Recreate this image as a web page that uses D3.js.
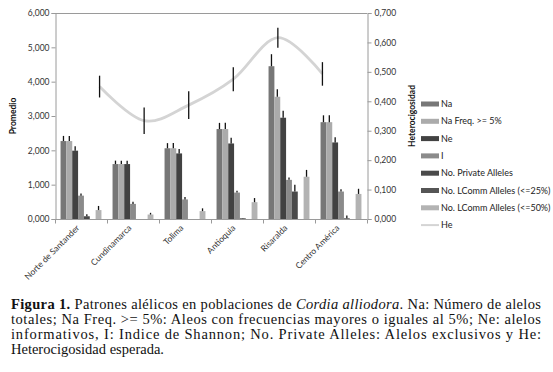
<!DOCTYPE html>
<html><head><meta charset="utf-8">
<script src="https://cdn.jsdelivr.net/npm/d3@7"></script>
<style>
html,body{margin:0;padding:0;background:#fff;}
svg{display:block;}
</style></head>
<body>
<svg id="chart" width="553" height="372"></svg>
<script>
const categories = ["Norte de Santander","Cundinamarca","Tolima","Antioquia","Risaralda","Centro América"];
const seriesNames = ["Na","Na Freq. >= 5%","Ne","I","No. Private Alleles","No. LComm Alleles (<=25%)","No. LComm Alleles (<=50%)"];
const seriesColors = ["#777777","#ababab","#424242","#8b8b8b","#4a4a4a","#555555","#b3b3b3"];
const naValues      = [2.27, 1.60, 2.06, 2.62, 4.45, 2.82];
const naFreqValues  = [2.27, 1.60, 2.06, 2.62, 3.56, 2.82];
const neValues      = [1.99, 1.60, 1.91, 2.20, 2.95, 2.23];
const iValues       = [0.68, 0.44, 0.57, 0.77, 1.14, 0.80];
const privValues    = [0.08, 0.00, 0.00, 0.02, 0.80, 0.02];
const lcomm25Values = [0.00, 0.00, 0.00, 0.00, 0.00, 0.00];
const lcomm50Values = [0.26, 0.13, 0.23, 0.49, 1.23, 0.73];
const naErr      = [0.15, 0.10, 0.15, 0.18, 0.35, 0.20];
const naFreqErr  = [0.15, 0.10, 0.15, 0.18, 0.22, 0.20];
const neErr      = [0.13, 0.10, 0.13, 0.17, 0.20, 0.15];
const iErr       = [0.06, 0.06, 0.07, 0.05, 0.07, 0.07];
const privErr    = [0.06, 0.00, 0.00, 0.01, 0.20, 0.08];
const lcomm25Err = [0, 0, 0, 0, 0, 0];
const lcomm50Err = [0.12, 0.05, 0.08, 0.12, 0.20, 0.15];
const heValues = [0.450, 0.334, 0.387, 0.475, 0.616, 0.493];
const heErr    = [0.037, 0.045, 0.047, 0.041, 0.034, 0.040];
const leftTicks  = [0,1,2,3,4,5,6];
const rightTicks = [0,0.1,0.2,0.3,0.4,0.5,0.6,0.7];
const leftTitle = "Promedio";
const rightTitle = "Heterocigosidad";
const heName = "He";

const allValues = [naValues,naFreqValues,neValues,iValues,privValues,lcomm25Values,lcomm50Values];
const allErr = [naErr,naFreqErr,neErr,iErr,privErr,lcomm25Err,lcomm50Err];

const svg = d3.select("#chart");
const L = 55, R = 367, T = 13, B = 219;
const axisColor = "#9a9a9a";
const tickFont = "Lato, 'Open Sans', sans-serif";

const x0 = d3.scaleBand().domain(categories).range([L, R]).paddingInner(0).paddingOuter(0);
const x1 = d3.scaleBand().domain(seriesNames).range([0, x0.bandwidth()]).paddingInner(0).paddingOuter(0.95);
const xLine = d3.scalePoint().domain(categories).range([L, R]).padding(1);
const yL = d3.scaleLinear().domain([0, 6]).range([B, T]);
const yR = d3.scaleLinear().domain([0, 0.7]).range([B, T]);
const fmt = v => d3.format(".3f")(v).replace(".", ",");

// frame lines
svg.append("line").attr("x1", L).attr("x2", R).attr("y1", T + 0.5).attr("y2", T + 0.5).attr("stroke", axisColor);

// Left axis
const gl = svg.append("g").attr("transform", `translate(${L + 0.5},0)`)
  .call(d3.axisLeft(yL).tickValues(leftTicks).tickFormat(fmt).tickSize(4).tickPadding(2));
// Right axis
const gr = svg.append("g").attr("transform", `translate(${R + 0.5},0)`)
  .call(d3.axisRight(yR).tickValues(rightTicks).tickFormat(fmt).tickSize(4).tickPadding(3));
[gl, gr].forEach(g => {
  g.select(".domain").attr("stroke", axisColor);
  g.selectAll(".tick line").attr("stroke", axisColor);
  g.selectAll(".tick text").attr("font-family", tickFont).attr("font-size", 8.5).attr("fill", "#333");
});

// bars
const groups = svg.append("g").selectAll("g").data(categories).join("g")
  .attr("transform", d => `translate(${x0(d)},0)`);
seriesNames.forEach((s, si) => {
  groups.append("rect")
    .attr("x", x1(s))
    .attr("width", x1.bandwidth())
    .attr("y", (d, ci) => yL(allValues[si][ci]))
    .attr("height", (d, ci) => B - yL(allValues[si][ci]))
    .attr("fill", seriesColors[si]);
  groups.filter((d, ci) => allErr[si][ci] > 0).append("line")
    .attr("x1", x1(s) + x1.bandwidth() / 2)
    .attr("x2", x1(s) + x1.bandwidth() / 2)
    .attr("y1", d => yL(allValues[si][categories.indexOf(d)]))
    .attr("y2", d => { const ci = categories.indexOf(d); return yL(allValues[si][ci] + allErr[si][ci]); })
    .attr("stroke", "#111").attr("stroke-width", 1.3);
});

// bottom axis
const gb = svg.append("g").attr("transform", `translate(0,${B + 0.5})`);
gb.append("line").attr("x1", L).attr("x2", R).attr("stroke", axisColor);
const bounds = categories.map(c => x0(c)).concat([R]);
gb.selectAll("line.tk").data(bounds).join("line").attr("class", "tk")
  .attr("x1", d => d + 0.5).attr("x2", d => d + 0.5).attr("y1", 0).attr("y2", 4).attr("stroke", axisColor);
gb.selectAll("text").data(categories).join("text")
  .attr("transform", d => `translate(${x0(d) + x0.bandwidth() / 2 - 1},${9}) rotate(-45)`)
  .attr("text-anchor", "end")
  .attr("font-family", tickFont).attr("font-size", 8.5).attr("fill", "#333")
  .text(d => d);

// He line
const line = d3.line().x((d, i) => xLine(categories[i])).y(d => yR(d)).curve(d3.curveCardinal.tension(0));
svg.append("path").datum(heValues).attr("d", line).attr("fill", "none")
  .attr("stroke", "#d4d4d4").attr("stroke-width", 2.8);
svg.append("g").selectAll("line").data(heValues).join("line")
  .attr("x1", (d, i) => xLine(categories[i])).attr("x2", (d, i) => xLine(categories[i]))
  .attr("y1", (d, i) => yR(d - heErr[i])).attr("y2", (d, i) => yR(d + heErr[i]))
  .attr("stroke", "#111").attr("stroke-width", 1.3);

// axis titles
svg.append("text").attr("transform", `translate(16,${(T + B) / 2}) rotate(-90)`)
  .attr("text-anchor", "middle").attr("font-family", tickFont).attr("font-weight", "bold")
  .attr("font-size", 8.5).attr("fill", "#111").text(leftTitle);
svg.append("text").attr("transform", `translate(415,${(T + B) / 2}) rotate(-90)`)
  .attr("text-anchor", "middle").attr("font-family", tickFont).attr("font-weight", "bold")
  .attr("font-size", 8.5).attr("fill", "#111").text(rightTitle);

// legend
const lg = svg.append("g").attr("transform", "translate(421,104)");
const legendItems = seriesNames.concat([heName]);
legendItems.forEach((name, i) => {
  const yy = i * 17.3;
  if (i < seriesNames.length) {
    lg.append("rect").attr("x", 0).attr("y", yy - 2.5).attr("width", 18).attr("height", 5).attr("fill", seriesColors[i]);
  } else {
    lg.append("line").attr("x1", 0).attr("x2", 18).attr("y1", yy).attr("y2", yy).attr("stroke", "#d4d4d4").attr("stroke-width", 2);
  }
  lg.append("text").attr("x", 20).attr("y", yy + 3).attr("font-family", tickFont)
    .attr("font-size", 9).attr("fill", "#222").text(name);
});

// caption
const cap = svg.append("g").attr("font-family", "'Liberation Serif', 'Times New Roman', serif").attr("font-size", 14.5).attr("fill", "#111").style("white-space", "pre");
const capX = 11, capW = 530;
const l1 = cap.append("text").attr("x", capX).attr("y", 309).attr("textLength", capW).attr("lengthAdjust", "spacing");
l1.append("tspan").attr("font-weight", "bold").text("Figura 1.");
l1.append("tspan").text(" Patrones alélicos en poblaciones de ");
l1.append("tspan").attr("font-style", "italic").text("Cordia alliodora");
l1.append("tspan").text(". Na: Número de alelos");
cap.append("text").attr("x", capX).attr("y", 324).attr("textLength", capW).attr("lengthAdjust", "spacing")
  .text("totales; Na Freq. >= 5%: Aleos con frecuencias mayores o iguales al 5%; Ne: alelos");
cap.append("text").attr("x", capX).attr("y", 339).attr("textLength", capW).attr("lengthAdjust", "spacing")
  .text("informativos, I: Indice de Shannon; No. Private Alleles: Alelos exclusivos  y  He:");
cap.append("text").attr("x", capX).attr("y", 354).text("Heterocigosidad  esperada.");
</script>
</body></html>
